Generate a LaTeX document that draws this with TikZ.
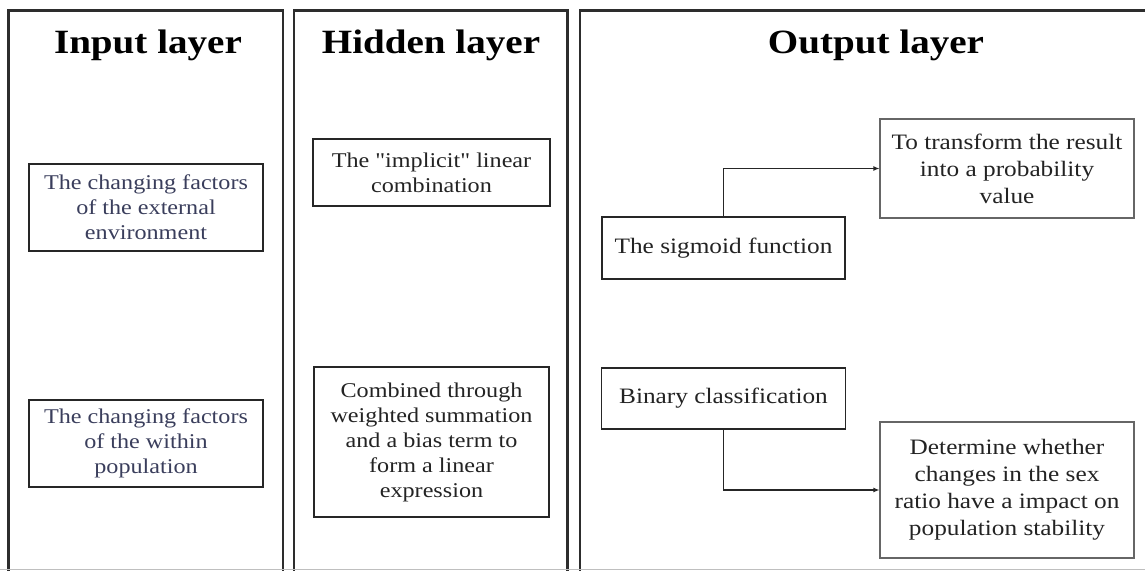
\documentclass[tikz,border=0pt]{standalone}
\usepackage{fontspec}
\setmainfont{Liberation Serif}[FakeStretch=1.15]
\newfontfamily\rawserif{Liberation Serif}[FakeStretch=1.15,Ligatures=ResetAll]
\usetikzlibrary{arrows.meta}
\definecolor{paneledge}{RGB}{45,45,45}
\definecolor{bluetext}{RGB}{58,62,92}
\definecolor{boxtext}{RGB}{35,35,35}
\newcommand{\sq}{{\rawserif\char"0022}}
\tikzset{
  panel/.style={draw=paneledge, line width=2.6pt},
  title/.style={anchor=base, font=\fontsize{34}{40}\selectfont\bfseries, text=black},
  inbox/.style={draw=black!85, line width=1.6pt, align=center, inner sep=0pt,
     font=\fontsize{21}{25}\selectfont},
  outbox/.style={draw=black!85, line width=1.6pt, align=center, inner sep=0pt,
     font=\fontsize{22}{27}\selectfont, text=boxtext},
  lightbox/.style={draw=black!60, line width=1.1pt, align=center, inner sep=0pt,
     font=\fontsize{22}{27}\selectfont, text=boxtext},
  arr/.style={draw=black!85, line width=1.6pt, -{Latex[length=6pt,width=5pt]}}
}
\begin{document}
\begin{tikzpicture}[x=1pt,y=-1pt]
\useasboundingbox (0,0) rectangle (1145,570);
\fill[white] (0,0) rectangle (1145,570);
% panels
\draw[panel] (8.5,575) -- (8.5,10.5) -- (283,10.5) -- (283,575);
\draw[panel] (294,575) -- (294,10.5) -- (567.5,10.5) -- (567.5,575);
\draw[panel] (580,575) -- (580,10.5) -- (1160,10.5);
\draw[black!25, line width=1pt] (0,569.5) -- (1145,569.5);
% titles
\node[title] (tin) at (148,53) {Input layer};
\node[title] (thid) at (431,53) {Hidden layer};
\node[title] (tout) at (876,53) {Output layer};
% input boxes
\node[inbox, text=bluetext, minimum width=234pt, minimum height=87pt] (in1) at (146,207.5)
  {The changing factors\\of the external\\environment};
\node[inbox, text=bluetext, minimum width=234pt, minimum height=87pt] (in2) at (146,443.5)
  {The changing factors\\of the within\\population};
% hidden boxes
\node[inbox, text=boxtext, minimum width=237pt, minimum height=67pt] (h1) at (431.5,172.5)
  {The \sq implicit\sq{} linear\\combination};
\node[inbox, text=boxtext, minimum width=235pt, minimum height=150pt] (h2) at (431.5,442)
  {Combined through\\weighted summation\\and a bias term to\\form a linear\\expression};
% output boxes
\node[outbox, minimum width=243pt, minimum height=62pt] (sig) at (723.5,248)
  {The sigmoid function};
\node[lightbox, minimum width=254pt, minimum height=99pt] (trans) at (1007,168.5)
  {To transform the result\\into a probability\\value};
\node[outbox, minimum width=244pt, minimum height=61pt] (bin) at (723.5,398.5)
  {Binary classification};
\node[lightbox, minimum width=254pt, minimum height=136pt] (det) at (1007,490)
  {Determine whether\\changes in the sex\\ratio have a impact on\\population stability};
% connectors
\draw[arr] (sig.north) |- (trans.west);
\draw[arr] (bin.south) |- (det.west);
\end{tikzpicture}
\end{document}
